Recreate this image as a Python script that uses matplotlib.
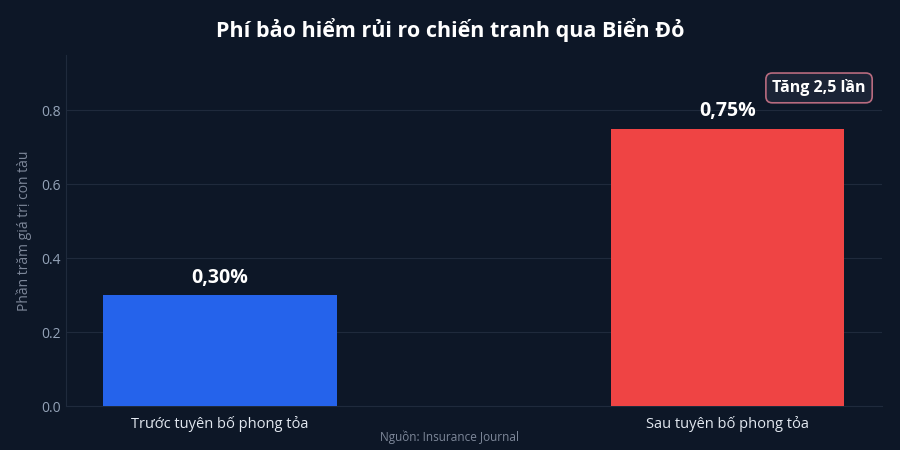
import matplotlib
matplotlib.use("Agg")
import matplotlib.pyplot as plt

categories = ["Trước tuyên bố phong tỏa", "Sau tuyên bố phong tỏa"]
values = [0.30, 0.75]
value_labels = ["0,30%", "0,75%"]
colors = ["#2563eb", "#ef4444"]
yticks = [0.0, 0.2, 0.4, 0.6, 0.8]

plt.rcParams['font.family'] = ['Open Sans', 'Noto Sans', 'DejaVu Sans']
bg = "#0d1727"

fig = plt.figure(figsize=(9, 4.5), dpi=100, facecolor=bg)
ax = fig.add_axes([66/900, 1-406/450, (882-66)/900, (406-55)/450])
ax.set_facecolor(bg)

x = list(range(len(categories)))
ax.bar(x, values, width=0.46, color=colors, zorder=3)
for xi, v, lab in zip(x, values, value_labels):
    ax.text(xi, v + 0.02, lab, ha='center', va='bottom', color='white',
            fontsize=14, fontweight='bold', zorder=4)

ax.set_xlim(-0.303, 1.304)
ax.set_ylim(0, 0.949)
ax.set_yticks(yticks)
ax.set_yticklabels([f"{t:.1f}" for t in yticks])
ax.set_xticks(x)
ax.set_xticklabels(categories)
ax.tick_params(axis='x', colors='white', labelsize=10.5, length=0, pad=7)
ax.tick_params(axis='y', colors='#94a3b8', labelsize=10, length=0, pad=4)
for lbl in ax.get_xticklabels():
    lbl.set_color('#e2e8f0')
ax.grid(axis='y', color='#1f2a3c', linewidth=0.8, zorder=0)
for s in ['top', 'right']:
    ax.spines[s].set_visible(False)
ax.spines['left'].set_color('#1f2a3c')
ax.spines['bottom'].set_color('#1f2a3c')
ax.set_ylabel("Phần trăm giá trị con tàu", color='#7d8799', fontsize=10, labelpad=6)

fig.text(0.5, 1-30/450, "Phí bảo hiểm rủi ro chiến tranh qua Biển Đỏ", ha='center', va='center',
         color='white', fontsize=15.5, fontweight='bold')
fig.text(0.5, 1-437/450, "Nguồn: Insurance Journal", ha='center', va='center',
         color='#7d8799', fontsize=8.5)

ax.text(1.18, 0.86, "Tăng 2,5 lần", ha='center', va='center', color='white',
        fontsize=11.5, fontweight='bold', zorder=5,
        bbox=dict(boxstyle='round,pad=0.4,rounding_size=0.4', facecolor='#1b2436',
                  edgecolor='#b86b7f', linewidth=1.2))

fig.savefig("out.png", dpi=100, facecolor=bg)
